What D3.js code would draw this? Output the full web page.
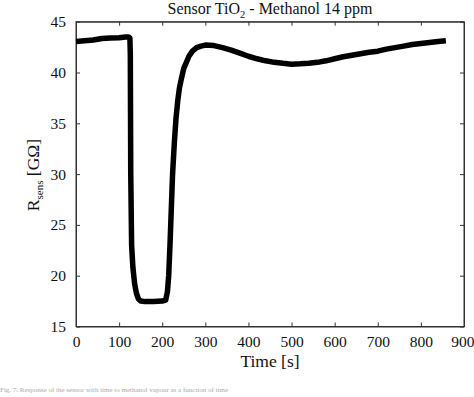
<!DOCTYPE html>
<html><head><meta charset="utf-8">
<script src="https://cdn.jsdelivr.net/npm/d3@7/dist/d3.min.js"></script>
<style>body{margin:0;background:#fff}svg{display:block}</style>
</head><body><svg id="c" width="474" height="397"></svg>
<script>
const time = [0,20,40,60,80,100,115,122,125,126,127,129,132,136,140,145,150,160,180,200,208,212,215,218,221,224,228,232,236,240,245,250,256,262,270,280,290,300,320,340,360,380,400,420,440,460,480,500,520,540,560,580,600,620,640,660,680,700,720,740,760,780,800,820,840,858];
const resistance = [43.05,43.12,43.2,43.35,43.4,43.42,43.5,43.5,43.4,41.8,30,23,20.8,19.2,18.3,17.7,17.5,17.45,17.45,17.5,17.6,18.4,20,23,26.5,30,33,35.5,37.2,38.5,39.5,40.4,41.0,41.6,42.1,42.45,42.6,42.7,42.65,42.45,42.2,41.9,41.6,41.35,41.15,41.0,40.9,40.82,40.85,40.9,41.0,41.15,41.35,41.55,41.7,41.85,42.0,42.1,42.3,42.45,42.6,42.75,42.85,42.95,43.05,43.12];
const xTicks = [0,100,200,300,400,500,600,700,800,900];
const yTicks = [15,20,25,30,35,40,45];
const FONT = '"Liberation Serif", "Times New Roman", Times, serif';

const svg = d3.select("#c");
const L=76,R=464,T=21.7,B=326.5;
const x = d3.scaleLinear().domain([0,900]).range([L,R]);
const y = d3.scaleLinear().domain([15,45]).range([B,T]);

const gx = svg.append("g").attr("transform",`translate(0,${B})`)
  .call(d3.axisBottom(x).tickValues(xTicks).tickSizeInner(-4).tickSizeOuter(0).tickPadding(9));
const gxt = svg.append("g").attr("transform",`translate(0,${T})`)
  .call(d3.axisTop(x).tickValues(xTicks).tickSizeInner(-4).tickSizeOuter(0).tickFormat(""));
const gy = svg.append("g").attr("transform",`translate(${L},0)`)
  .call(d3.axisLeft(y).tickValues(yTicks).tickSizeInner(-4).tickSizeOuter(0).tickPadding(10));
const gyr = svg.append("g").attr("transform",`translate(${R},0)`)
  .call(d3.axisRight(y).tickValues(yTicks).tickSizeInner(-4).tickSizeOuter(0).tickFormat(""));
[gx,gxt,gy,gyr].forEach(g=>{g.attr("font-family",FONT);g.selectAll("path,line").attr("stroke","#333").attr("stroke-width",1);
  g.selectAll("text").attr("font-size",15.5).attr("fill","#111");});
gx.selectAll("text").attr("dy","0.71em");
gx.selectAll(".tick").filter(d=>d===900).select("text").attr("text-anchor","end").attr("x",10);
svg.append("rect").attr("x",L).attr("y",T).attr("width",R-L).attr("height",B-T)
  .attr("fill","none").attr("stroke","#333").attr("stroke-width",1);

svg.append("path").datum(d3.zip(time,resistance))
  .attr("fill","none").attr("stroke","#000").attr("stroke-width",5.5)
  .attr("stroke-linejoin","round").attr("stroke-linecap","butt")
  .attr("d",d3.line().x(d=>x(d[0])).y(d=>y(d[1])));

const title = svg.append("text").attr("x",270).attr("y",14).attr("text-anchor","middle").attr("font-size",16);
title.append("tspan").text("Sensor TiO");
title.append("tspan").attr("font-size",10.5).attr("dy",4).text("2");
title.append("tspan").attr("dy",-4).text(" - Methanol 14 ppm");

svg.append("text").attr("x",270).attr("y",367).attr("text-anchor","middle").attr("font-size",17.5).text("Time [s]");

const yl = svg.append("text").attr("transform","translate(39,175) rotate(-90)").attr("text-anchor","middle").attr("font-size",17.5);
yl.append("tspan").text("R");
yl.append("tspan").attr("font-size",11).attr("dy",4).text("sens");
yl.append("tspan").attr("dy",-4).text(" [GΩ]");

svg.append("text").attr("x",0).attr("y",392).attr("font-size",7).attr("fill","#aaa")
  .text("Fig. 7.   Response of the sensor with time to methanol vapour as a function of time");

svg.selectAll("text").style("font-family",FONT).attr("fill", function(){return d3.select(this).attr("fill")||"#111";});
</script></body></html>
